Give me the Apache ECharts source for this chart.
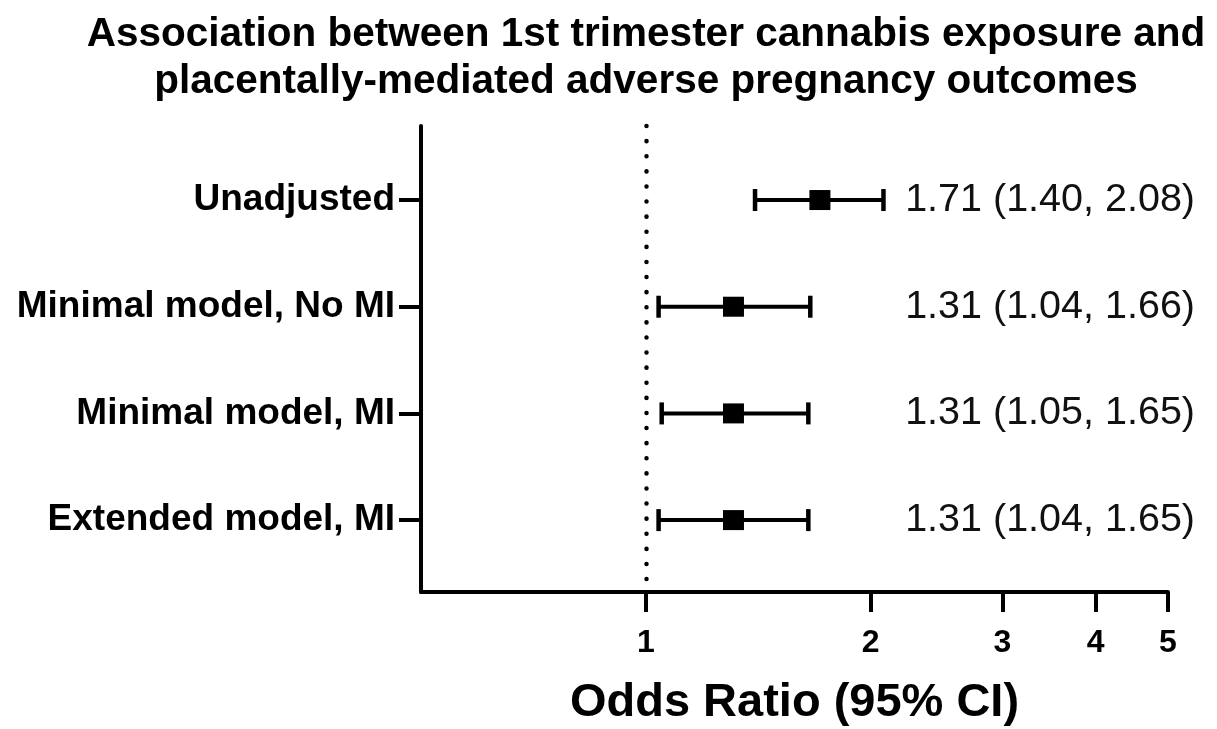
<!DOCTYPE html>
<html>
<head>
<meta charset="utf-8">
<script src="https://cdn.jsdelivr.net/npm/echarts@6/dist/echarts.min.js"></script>
<style>
html,body{margin:0;padding:0;background:#fff;}
#chart{width:1217px;height:729px;}
</style>
</head>
<body>
<div id="chart"></div>
<script>
// ---- data ----
const categories = ['Unadjusted', 'Minimal model, No MI', 'Minimal model, MI', 'Extended model, MI'];
const oddsRatio = [1.71, 1.31, 1.31, 1.31];
const ciLow = [1.40, 1.04, 1.05, 1.04];
const ciHigh = [2.08, 1.66, 1.65, 1.65];
const xTicks = [1, 2, 3, 4, 5];
const rowPos = [1, 2, 3, 4];

const FONT = '"Liberation Sans", Arial, Helvetica, sans-serif';
const fmt = v => v.toFixed(2);
const rightText = categories.map((c, i) => fmt(oddsRatio[i]) + ' (' + fmt(ciLow[i]) + ', ' + fmt(ciHigh[i]) + ')');

const chart = echarts.init(document.getElementById('chart'));
const option = {
  backgroundColor: '#fff',
  animation: false,
  title: {
    text: 'Association between 1st trimester cannabis exposure and\nplacentally-mediated adverse pregnancy outcomes',
    left: 641, top: 6, textAlign: 'center',
    textStyle: { fontFamily: FONT, fontSize: 40.5, fontWeight: 'bold', color: '#000', lineHeight: 47 }
  },
  grid: { left: 421, right: 49, top: 126, bottom: 137, containLabel: false, outerBoundsMode: 'none' },
  xAxis: {
    type: 'log', logBase: 10, min: 0.5, max: 5,
    name: 'Odds Ratio (95% CI)', nameLocation: 'middle', nameGap: 88,
    nameTextStyle: { fontFamily: FONT, fontSize: 47, fontWeight: 'bold', color: '#000' },
    axisLine: { lineStyle: { color: '#000', width: 4 } },
    axisTick: { show: true, length: 20, lineStyle: { color: '#000', width: 4 }, customValues: xTicks },
    axisLabel: { customValues: xTicks, margin: 35, fontFamily: FONT, fontSize: 32, fontWeight: 'bold', color: '#000',
      formatter: v => String(Math.round(v)) },
    splitLine: { show: false }, minorTick: { show: false }
  },
  yAxis: [{
    type: 'value', inverse: true, min: 0.306, max: 4.674,
    axisLine: { show: true, lineStyle: { color: '#000', width: 4 } },
    axisTick: { show: true, length: 22, lineStyle: { color: '#000', width: 4 }, customValues: rowPos },
    axisLabel: { customValues: rowPos, margin: 26, fontFamily: FONT, fontSize: 37, fontWeight: 'bold', color: '#000',
      formatter: v => categories[Math.round(v) - 1] || '' },
    splitLine: { show: false }
  }, {
    type: 'value', inverse: true, min: 0.306, max: 4.674, position: 'right',
    axisLine: { show: false }, axisTick: { show: false },
    axisLabel: { customValues: rowPos, margin: 27, align: 'right', fontFamily: FONT, fontSize: 39.5, color: '#111',
      formatter: v => rightText[Math.round(v) - 1] || '' },
    splitLine: { show: false }
  }],
  series: [{
    type: 'custom',
    data: categories.map((c, i) => [ciLow[i], ciHigh[i], rowPos[i]]),
    encode: { x: [0, 1], y: 2 },
    renderItem: function (params, api) {
      const y = api.value(2);
      const p0 = api.coord([api.value(0), y]);
      const p1 = api.coord([api.value(1), y]);
      const h = 11;
      const style = { stroke: '#000', lineWidth: 4, fill: null };
      const capStyle = { stroke: '#000', lineWidth: 4.5, fill: null };
      return {
        type: 'group',
        children: [
          { type: 'line', shape: { x1: p0[0], y1: p0[1], x2: p1[0], y2: p1[1] }, style: style },
          { type: 'line', shape: { x1: p0[0], y1: p0[1] - h, x2: p0[0], y2: p0[1] + h }, style: capStyle },
          { type: 'line', shape: { x1: p1[0], y1: p1[1] - h, x2: p1[0], y2: p1[1] + h }, style: capStyle }
        ]
      };
    },
    silent: true, z: 2
  }, {
    type: 'scatter',
    data: categories.map((c, i) => [oddsRatio[i], rowPos[i]]),
    symbol: 'rect', symbolSize: [21, 20],
    itemStyle: { color: '#000', opacity: 1 },
    silent: true, z: 3,
    markLine: {
      silent: true, symbol: 'none', label: { show: false },
      lineStyle: { color: '#000', width: 4.5, type: [0.1, 15], cap: 'round', opacity: 1 },
      data: [{ xAxis: 1 }]
    }
  }]
};
chart.setOption(option);
</script>
</body>
</html>
